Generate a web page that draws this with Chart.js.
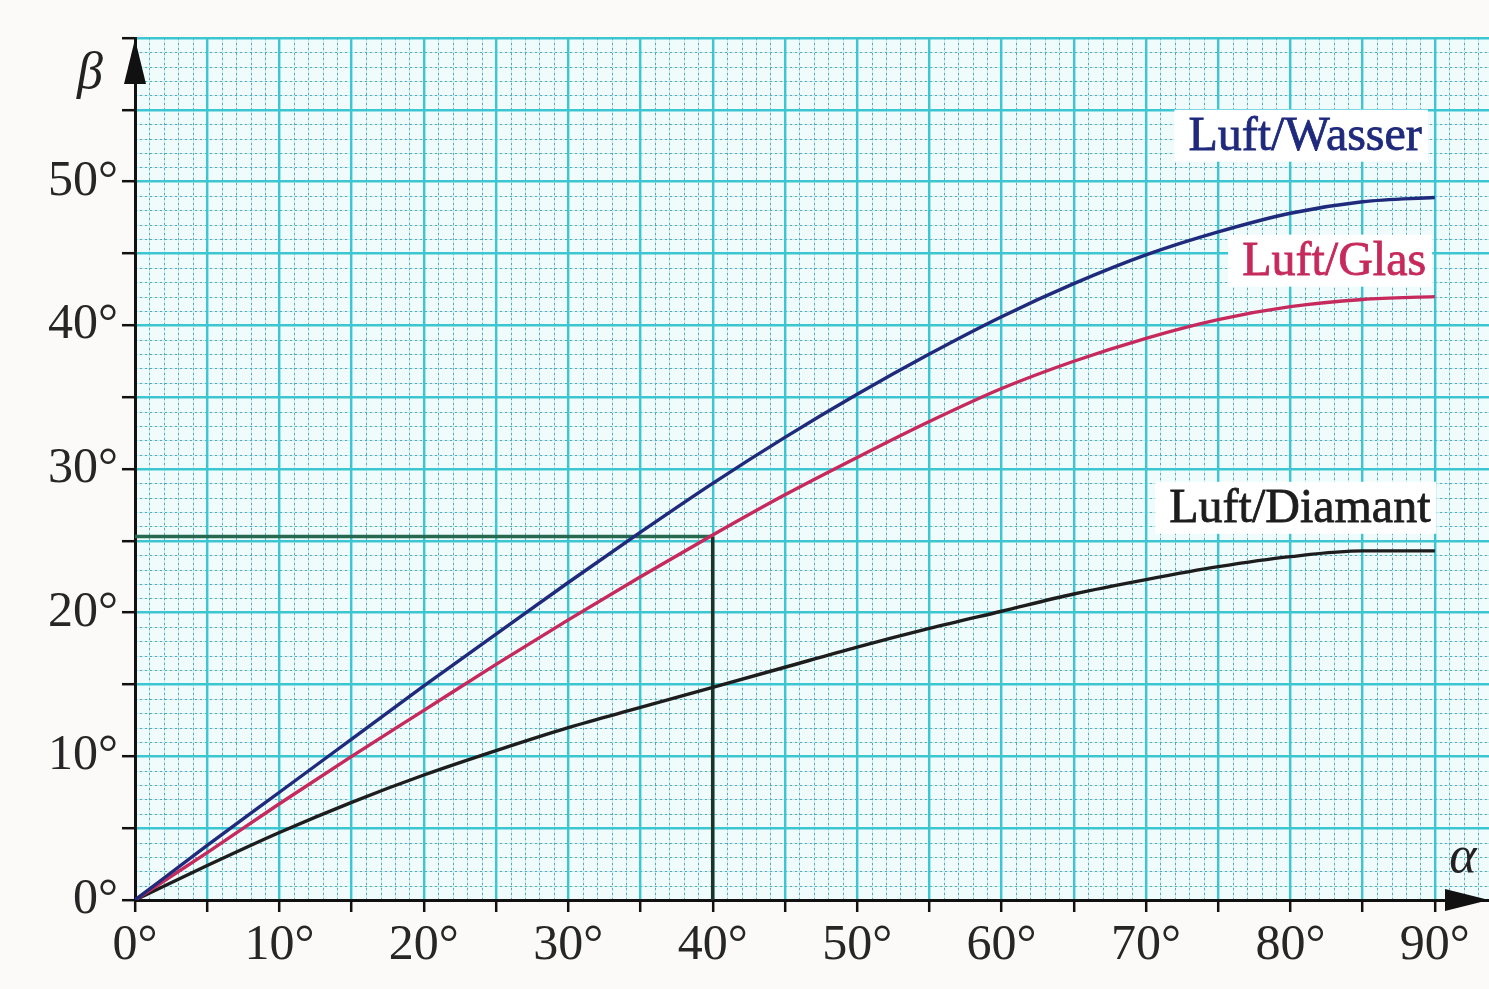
<!DOCTYPE html>
<html>
<head>
<meta charset="utf-8">
<script src="https://cdn.jsdelivr.net/npm/chart.js@4.4.1/dist/chart.umd.min.js"></script>
<style>
  html, body { margin: 0; padding: 0; background: #fbfaf8; }
  #wrap { width: 1489px; height: 989px; }
</style>
</head>
<body>
<div id="wrap"><canvas id="c" width="1489" height="989"></canvas></div>
<script>
// ---- data ----
const alpha   = [0, 5, 10, 15, 20, 25, 30, 35, 40, 45, 50, 55, 60, 65, 70, 75, 80, 85, 90];
const wasser  = [0, 3.8, 7.5, 11.2, 14.9, 18.5, 22.1, 25.6, 29.0, 32.2, 35.2, 38.0, 40.6, 42.9, 44.9, 46.5, 47.8, 48.6, 48.9];
const glas    = [0, 3.3, 6.7, 10.0, 13.2, 16.4, 19.5, 22.5, 25.4, 28.2, 30.8, 33.3, 35.6, 37.5, 39.1, 40.4, 41.3, 41.8, 42.0];
const diamant = [0, 2.4, 4.7, 6.8, 8.7, 10.4, 12.0, 13.4, 14.8, 16.2, 17.6, 18.9, 20.1, 21.3, 22.3, 23.2, 23.9, 24.3, 24.3];
const refAlpha = 40;
const refBeta  = 25.3;
const seriesNames = ['Luft/Wasser', 'Luft/Glas', 'Luft/Diamant'];
const xTickValues = [0, 10, 20, 30, 40, 50, 60, 70, 80, 90];
const yTickValues = [0, 10, 20, 30, 40, 50];
// label anchor positions (data units)
const labelX = [89.1, 89.4, 89.7];
const labelY = [53.2, 44.5, 27.3];

const colors = ['#1f2a7c', '#c62a5c', '#1d1d1d'];
const FONT = "'Liberation Serif', 'DejaVu Serif', serif";

const toPts = arr => alpha.map((a, i) => ({x: a, y: arr[i]}));

const paperPlugin = {
  id: 'paper',
  beforeDraw(chart) {
    const {ctx, chartArea: a, scales: {x, y}} = chart;
    ctx.save();
    ctx.fillStyle = '#f0fbfc';
    ctx.fillRect(a.left, a.top, a.right - a.left, a.bottom - a.top);
    // minor 1-degree lines
    ctx.lineWidth = 1;
    const minorX = [], minorY = [];
    for (let v = 1; v <= Math.floor(x.max); v++) if (v % 5) minorX.push(Math.round(x.getPixelForValue(v)) + 0.5);
    for (let v = 1; v <= Math.floor(y.max); v++) if (v % 5) minorY.push(Math.round(y.getPixelForValue(v)) + 0.5);
    ctx.setLineDash([]);
    ctx.strokeStyle = '#bdeaf0';
    minorX.forEach(px => { ctx.beginPath(); ctx.moveTo(px, a.top); ctx.lineTo(px, a.bottom); ctx.stroke(); });
    minorY.forEach(py => { ctx.beginPath(); ctx.moveTo(a.left, py); ctx.lineTo(a.right, py); ctx.stroke(); });
    ctx.setLineDash([2, 3]);
    ctx.strokeStyle = '#5fa6b3';
    minorX.forEach(px => { ctx.beginPath(); ctx.moveTo(px, a.top); ctx.lineTo(px, a.bottom); ctx.stroke(); });
    minorY.forEach(py => { ctx.beginPath(); ctx.moveTo(a.left, py); ctx.lineTo(a.right, py); ctx.stroke(); });
    ctx.restore();
  },
  afterDraw(chart) {
    const {ctx, chartArea: a, scales: {x, y}} = chart;
    ctx.save();
    // axis arrows
    ctx.fillStyle = '#111';
    const x0 = x.getPixelForValue(0), y0 = y.getPixelForValue(0);
    ctx.beginPath();
    ctx.moveTo(x0, a.top + 1);
    ctx.lineTo(x0 - 11, a.top + 46);
    ctx.lineTo(x0 + 11, a.top + 46);
    ctx.closePath(); ctx.fill();
    ctx.beginPath();
    ctx.moveTo(a.right, y0);
    ctx.lineTo(a.right - 44, y0 - 11);
    ctx.lineTo(a.right - 44, y0 + 11);
    ctx.closePath(); ctx.fill();
    // axis symbols
    ctx.fillStyle = '#222';
    ctx.font = "italic 52px " + FONT;
    ctx.textAlign = 'center'; ctx.textBaseline = 'alphabetic';
    ctx.fillText('\u03B2', 90, 88);
    ctx.fillText('\u03B1', 1463, 872);
    // series labels
    ctx.font = "48px " + FONT;
    ctx.textAlign = 'right'; ctx.textBaseline = 'middle';
    seriesNames.forEach((name, i) => {
      const px = x.getPixelForValue(labelX[i]);
      const py = y.getPixelForValue(labelY[i]);
      const w = ctx.measureText(name).width;
      ctx.fillStyle = '#ffffff';
      ctx.fillRect(px - w - 14, py - 26, w + 20, 52);
      ctx.fillStyle = colors[i];
      ctx.fillText(name, px, py + 2);
      ctx.lineWidth = 0.8; ctx.strokeStyle = colors[i];
      ctx.strokeText(name, px, py + 2);
    });
    ctx.restore();
  }
};

new Chart(document.getElementById('c'), {
  type: 'line',
  data: {
    datasets: [
      {label: seriesNames[0], data: toPts(wasser),  borderColor: colors[0], borderWidth: 3.4, pointRadius: 0, tension: 0.4, cubicInterpolationMode: 'monotone', order: 1},
      {label: seriesNames[1], data: toPts(glas),    borderColor: colors[1], borderWidth: 3.4, pointRadius: 0, tension: 0.4, cubicInterpolationMode: 'monotone', order: 2},
      {label: seriesNames[2], data: toPts(diamant), borderColor: colors[2], borderWidth: 3.4, pointRadius: 0, tension: 0.4, cubicInterpolationMode: 'monotone', order: 3},
      {label: 'ref', data: [{x: 0, y: refBeta}, {x: refAlpha, y: refBeta}, {x: refAlpha, y: 0}],
       borderColor: '#22664c', borderWidth: 3.5, pointRadius: 0, tension: 0, order: 10,
       segment: {borderColor: c => c.p0DataIndex === 0 ? '#27694f' : '#1c3328'}}
    ]
  },
  options: {
    responsive: false,
    animation: false,
    events: [],
    layout: {padding: {top: 38, right: 0, left: 0, bottom: 0}},
    plugins: {legend: {display: false}, tooltip: {enabled: false}},
    scales: {
      x: {
        type: 'linear', min: 0, max: 93.75,
        afterFit: s => { s.height = 89; },
        border: {color: '#111', width: 3},
        grid: {
          color: c => (c.tick && c.tick.value === 0) ? 'rgba(0,0,0,0)' : '#3cc6d2',
          lineWidth: 2.4,
          drawTicks: true, tickLength: 12, tickColor: '#111', tickWidth: 2.5
        },
        ticks: {
          stepSize: 5, includeBounds: false, autoSkip: false, maxRotation: 0, padding: 4,
          color: '#262626', font: {family: FONT, size: 50},
          callback: v => xTickValues.includes(v) ? v + '\u00B0' : ''
        }
      },
      y: {
        type: 'linear', min: 0, max: 60,
        afterFit: s => { s.width = 135; },
        border: {color: '#111', width: 3},
        grid: {
          color: c => (c.tick && c.tick.value === 0) ? 'rgba(0,0,0,0)' : '#3cc6d2',
          lineWidth: 2.4,
          drawTicks: true, tickLength: 13, tickColor: '#111', tickWidth: 2.5
        },
        ticks: {
          stepSize: 5, includeBounds: false, autoSkip: false, padding: 4,
          color: '#262626', font: {family: FONT, size: 50},
          callback: v => yTickValues.includes(v) ? v + '\u00B0' : ''
        }
      }
    }
  },
  plugins: [paperPlugin]
});
</script>
</body>
</html>
